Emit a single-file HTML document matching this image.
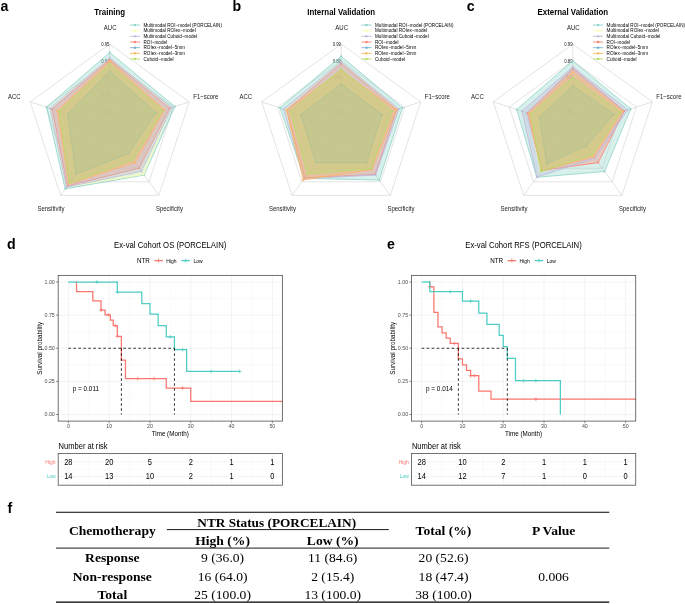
<!DOCTYPE html>
<html><head><meta charset="utf-8"><style>
html,body{margin:0;padding:0;background:#fff;width:685px;height:604px;overflow:hidden}
svg{display:block;filter:blur(0.35px)}
</style></head><body>
<svg width="685" height="604" viewBox="0 0 685 604">
<rect width="685" height="604" fill="#fff"/>
<text transform="translate(0.4,11)" font-family="'Liberation Sans', sans-serif" font-size="14.2" font-weight="bold" fill="#000">a</text>
<text transform="translate(232.6,11.2)" font-family="'Liberation Sans', sans-serif" font-size="14.2" font-weight="bold" fill="#000">b</text>
<text transform="translate(466.8,11.4)" font-family="'Liberation Sans', sans-serif" font-size="14.2" font-weight="bold" fill="#000">c</text>
<text transform="translate(6.9,249)" font-family="'Liberation Sans', sans-serif" font-size="14.2" font-weight="bold" fill="#000">d</text>
<text transform="translate(386.9,249)" font-family="'Liberation Sans', sans-serif" font-size="14.2" font-weight="bold" fill="#000">e</text>
<text transform="translate(7.4,513)" font-family="'Liberation Sans', sans-serif" font-size="14.2" font-weight="bold" fill="#000">f</text>
<text transform="translate(109.7,14.9) scale(1,1.12)" text-anchor="middle" font-family="'Liberation Sans', sans-serif" font-size="7.9" font-weight="bold" fill="#000">Training</text>
<polygon points="109.7,44.1 189.21,101.87 158.84,195.33 60.56,195.33 30.19,101.87" fill="none" stroke="#CCCCCC" stroke-width="0.55"/>
<polygon points="109.7,60.82 173.31,107.03 149.01,181.81 70.39,181.81 46.09,107.03" fill="none" stroke="#CCCCCC" stroke-width="0.55"/>
<polygon points="109.7,77.54 157.4,112.2 139.18,168.28 80.22,168.28 62,112.2" fill="none" stroke="#CCCCCC" stroke-width="0.55"/>
<polygon points="109.7,94.26 141.5,117.37 129.36,154.75 90.04,154.75 77.9,117.37" fill="none" stroke="#CCCCCC" stroke-width="0.55"/>
<polygon points="109.7,110.98 125.6,122.53 119.53,141.23 99.87,141.23 93.8,122.53" fill="none" stroke="#CCCCCC" stroke-width="0.55"/>
<line x1="109.7" y1="127.7" x2="109.7" y2="44.1" stroke="#CCCCCC" stroke-width="0.55"/>
<line x1="109.7" y1="127.7" x2="189.21" y2="101.87" stroke="#CCCCCC" stroke-width="0.55"/>
<line x1="109.7" y1="127.7" x2="158.84" y2="195.33" stroke="#CCCCCC" stroke-width="0.55"/>
<line x1="109.7" y1="127.7" x2="60.56" y2="195.33" stroke="#CCCCCC" stroke-width="0.55"/>
<line x1="109.7" y1="127.7" x2="30.19" y2="101.87" stroke="#CCCCCC" stroke-width="0.55"/>
<text transform="translate(109.5,45.85) scale(1,1.12)" text-anchor="end" font-family="'Liberation Sans', sans-serif" font-size="4.3" fill="#222">0.95</text>
<text transform="translate(109.5,62.57) scale(1,1.12)" text-anchor="end" font-family="'Liberation Sans', sans-serif" font-size="4.3" fill="#222">0.86</text>
<text transform="translate(109.5,79.29) scale(1,1.12)" text-anchor="end" font-family="'Liberation Sans', sans-serif" font-size="4.3" fill="#222">0.8</text>
<text transform="translate(109.5,96.01) scale(1,1.12)" text-anchor="end" font-family="'Liberation Sans', sans-serif" font-size="4.3" fill="#222">0.71</text>
<text transform="translate(109.5,112.73) scale(1,1.12)" text-anchor="end" font-family="'Liberation Sans', sans-serif" font-size="4.3" fill="#222">0.62</text>
<polygon points="109.7,52.46 174.9,106.52 144.1,175.04 65.23,188.91 46.57,107.19" fill="#8DD3C7" fill-opacity="0.35" stroke="#8DD3C7" stroke-width="0.8" stroke-linejoin="round"/>
<circle cx="109.7" cy="52.46" r="0.95" fill="#8DD3C7"/>
<circle cx="174.9" cy="106.52" r="0.95" fill="#8DD3C7"/>
<circle cx="144.1" cy="175.04" r="0.95" fill="#8DD3C7"/>
<circle cx="65.23" cy="188.91" r="0.95" fill="#8DD3C7"/>
<circle cx="46.57" cy="107.19" r="0.95" fill="#8DD3C7"/>
<polygon points="109.7,58.31 170.92,107.81 143.61,174.37 66.7,186.88 50.47,108.45" fill="#FFFFB3" fill-opacity="0.35" stroke="#FFFFB3" stroke-width="0.8" stroke-linejoin="round"/>
<circle cx="109.7" cy="58.31" r="0.95" fill="#FFFFB3"/>
<circle cx="170.92" cy="107.81" r="0.95" fill="#FFFFB3"/>
<circle cx="143.61" cy="174.37" r="0.95" fill="#FFFFB3"/>
<circle cx="66.7" cy="186.88" r="0.95" fill="#FFFFB3"/>
<circle cx="50.47" cy="108.45" r="0.95" fill="#FFFFB3"/>
<polygon points="109.7,59.48 169.65,108.22 139.18,168.28 67.39,185.93 52.22,109.02" fill="#FB8072" fill-opacity="0.35" stroke="#FB8072" stroke-width="0.8" stroke-linejoin="round"/>
<circle cx="109.7" cy="59.48" r="0.95" fill="#FB8072"/>
<circle cx="169.65" cy="108.22" r="0.95" fill="#FB8072"/>
<circle cx="139.18" cy="168.28" r="0.95" fill="#FB8072"/>
<circle cx="67.39" cy="185.93" r="0.95" fill="#FB8072"/>
<circle cx="52.22" cy="109.02" r="0.95" fill="#FB8072"/>
<polygon points="109.7,57.81 171.72,107.55 141.39,171.32 66.46,187.22 50.15,108.35" fill="#BEBADA" fill-opacity="0.35" stroke="#BEBADA" stroke-width="0.8" stroke-linejoin="round"/>
<circle cx="109.7" cy="57.81" r="0.95" fill="#BEBADA"/>
<circle cx="171.72" cy="107.55" r="0.95" fill="#BEBADA"/>
<circle cx="141.39" cy="171.32" r="0.95" fill="#BEBADA"/>
<circle cx="66.46" cy="187.22" r="0.95" fill="#BEBADA"/>
<circle cx="50.15" cy="108.35" r="0.95" fill="#BEBADA"/>
<polygon points="109.7,71.1 155.81,112.72 128.37,153.4 75.94,174.16 67.8,114.09" fill="#80B1D3" fill-opacity="0.35" stroke="#80B1D3" stroke-width="0.8" stroke-linejoin="round"/>
<circle cx="109.7" cy="71.1" r="0.95" fill="#80B1D3"/>
<circle cx="155.81" cy="112.72" r="0.95" fill="#80B1D3"/>
<circle cx="128.37" cy="153.4" r="0.95" fill="#80B1D3"/>
<circle cx="75.94" cy="174.16" r="0.95" fill="#80B1D3"/>
<circle cx="67.8" cy="114.09" r="0.95" fill="#80B1D3"/>
<polygon points="109.7,60.99 164.56,109.87 135.01,162.53 68.91,183.84 57.3,110.68" fill="#FDB462" fill-opacity="0.35" stroke="#FDB462" stroke-width="0.8" stroke-linejoin="round"/>
<circle cx="109.7" cy="60.99" r="0.95" fill="#FDB462"/>
<circle cx="164.56" cy="109.87" r="0.95" fill="#FDB462"/>
<circle cx="135.01" cy="162.53" r="0.95" fill="#FDB462"/>
<circle cx="68.91" cy="183.84" r="0.95" fill="#FDB462"/>
<circle cx="57.3" cy="110.68" r="0.95" fill="#FDB462"/>
<polygon points="109.7,63.83 162.65,110.49 133.04,159.83 69.46,183.09 59.13,111.27" fill="#B3DE69" fill-opacity="0.35" stroke="#B3DE69" stroke-width="0.8" stroke-linejoin="round"/>
<circle cx="109.7" cy="63.83" r="0.95" fill="#B3DE69"/>
<circle cx="162.65" cy="110.49" r="0.95" fill="#B3DE69"/>
<circle cx="133.04" cy="159.83" r="0.95" fill="#B3DE69"/>
<circle cx="69.46" cy="183.09" r="0.95" fill="#B3DE69"/>
<circle cx="59.13" cy="111.27" r="0.95" fill="#B3DE69"/>
<text transform="translate(110.2,29.6) scale(1,1.12)" text-anchor="middle" font-family="'Liberation Sans', sans-serif" font-size="6" fill="#1a1a1a">AUC</text>
<text transform="translate(205.8,98.7) scale(1,1.12)" text-anchor="middle" font-family="'Liberation Sans', sans-serif" font-size="6" fill="#1a1a1a">F1−score</text>
<text transform="translate(169.4,210.7) scale(1,1.12)" text-anchor="middle" font-family="'Liberation Sans', sans-serif" font-size="6" fill="#1a1a1a">Specificity</text>
<text transform="translate(50.9,210.7) scale(1,1.12)" text-anchor="middle" font-family="'Liberation Sans', sans-serif" font-size="6" fill="#1a1a1a">Sensitivity</text>
<text transform="translate(14.3,98.6) scale(1,1.12)" text-anchor="middle" font-family="'Liberation Sans', sans-serif" font-size="6" fill="#1a1a1a">ACC</text>
<line x1="130" y1="25" x2="140" y2="25" stroke="#8DD3C7" stroke-width="0.9"/>
<circle cx="135" cy="25" r="1.2" fill="#8DD3C7"/>
<text transform="translate(143.5,26.6) scale(1,1.12)" font-family="'Liberation Sans', sans-serif" font-size="4.65" fill="#000">Multimodal ROI−model (PORCELAIN)</text>
<line x1="130" y1="30.67" x2="140" y2="30.67" stroke="#FFFFB3" stroke-width="0.9"/>
<circle cx="135" cy="30.67" r="1.2" fill="#FFFFB3"/>
<text transform="translate(143.5,32.27) scale(1,1.12)" font-family="'Liberation Sans', sans-serif" font-size="4.65" fill="#000">Multimodal ROIex−model</text>
<line x1="130" y1="36.34" x2="140" y2="36.34" stroke="#BEBADA" stroke-width="0.9"/>
<circle cx="135" cy="36.34" r="1.2" fill="#BEBADA"/>
<text transform="translate(143.5,37.94) scale(1,1.12)" font-family="'Liberation Sans', sans-serif" font-size="4.65" fill="#000">Multimodal Cuboid−model</text>
<line x1="130" y1="42.01" x2="140" y2="42.01" stroke="#FB8072" stroke-width="0.9"/>
<circle cx="135" cy="42.01" r="1.2" fill="#FB8072"/>
<text transform="translate(143.5,43.61) scale(1,1.12)" font-family="'Liberation Sans', sans-serif" font-size="4.65" fill="#000">ROI−model</text>
<line x1="130" y1="47.68" x2="140" y2="47.68" stroke="#80B1D3" stroke-width="0.9"/>
<circle cx="135" cy="47.68" r="1.2" fill="#80B1D3"/>
<text transform="translate(143.5,49.28) scale(1,1.12)" font-family="'Liberation Sans', sans-serif" font-size="4.65" fill="#000">ROIex−model−5mm</text>
<line x1="130" y1="53.35" x2="140" y2="53.35" stroke="#FDB462" stroke-width="0.9"/>
<circle cx="135" cy="53.35" r="1.2" fill="#FDB462"/>
<text transform="translate(143.5,54.95) scale(1,1.12)" font-family="'Liberation Sans', sans-serif" font-size="4.65" fill="#000">ROIex−model−3mm</text>
<line x1="130" y1="59.02" x2="140" y2="59.02" stroke="#B3DE69" stroke-width="0.9"/>
<circle cx="135" cy="59.02" r="1.2" fill="#B3DE69"/>
<text transform="translate(143.5,60.62) scale(1,1.12)" font-family="'Liberation Sans', sans-serif" font-size="4.65" fill="#000">Cuboid−model</text>
<text transform="translate(341.2,14.9) scale(1,1.12)" text-anchor="middle" font-family="'Liberation Sans', sans-serif" font-size="7.9" font-weight="bold" fill="#000">Internal Validation</text>
<polygon points="341.2,44.1 420.71,101.87 390.34,195.33 292.06,195.33 261.69,101.87" fill="none" stroke="#CCCCCC" stroke-width="0.55"/>
<polygon points="341.2,60.82 404.81,107.03 380.51,181.81 301.89,181.81 277.59,107.03" fill="none" stroke="#CCCCCC" stroke-width="0.55"/>
<polygon points="341.2,77.54 388.9,112.2 370.68,168.28 311.72,168.28 293.5,112.2" fill="none" stroke="#CCCCCC" stroke-width="0.55"/>
<polygon points="341.2,94.26 373,117.37 360.86,154.75 321.54,154.75 309.4,117.37" fill="none" stroke="#CCCCCC" stroke-width="0.55"/>
<polygon points="341.2,110.98 357.1,122.53 351.03,141.23 331.37,141.23 325.3,122.53" fill="none" stroke="#CCCCCC" stroke-width="0.55"/>
<line x1="341.2" y1="127.7" x2="341.2" y2="44.1" stroke="#CCCCCC" stroke-width="0.55"/>
<line x1="341.2" y1="127.7" x2="420.71" y2="101.87" stroke="#CCCCCC" stroke-width="0.55"/>
<line x1="341.2" y1="127.7" x2="390.34" y2="195.33" stroke="#CCCCCC" stroke-width="0.55"/>
<line x1="341.2" y1="127.7" x2="292.06" y2="195.33" stroke="#CCCCCC" stroke-width="0.55"/>
<line x1="341.2" y1="127.7" x2="261.69" y2="101.87" stroke="#CCCCCC" stroke-width="0.55"/>
<text transform="translate(341,45.85) scale(1,1.12)" text-anchor="end" font-family="'Liberation Sans', sans-serif" font-size="4.3" fill="#222">0.99</text>
<text transform="translate(341,62.57) scale(1,1.12)" text-anchor="end" font-family="'Liberation Sans', sans-serif" font-size="4.3" fill="#222">0.89</text>
<text transform="translate(341,79.29) scale(1,1.12)" text-anchor="end" font-family="'Liberation Sans', sans-serif" font-size="4.3" fill="#222">0.8</text>
<text transform="translate(341,96.01) scale(1,1.12)" text-anchor="end" font-family="'Liberation Sans', sans-serif" font-size="4.3" fill="#222">0.71</text>
<text transform="translate(341,112.73) scale(1,1.12)" text-anchor="end" font-family="'Liberation Sans', sans-serif" font-size="4.3" fill="#222">0.62</text>
<polygon points="341.2,56.22 402.42,107.81 379.23,180.05 304.35,178.43 279.98,107.81" fill="#8DD3C7" fill-opacity="0.35" stroke="#8DD3C7" stroke-width="0.8" stroke-linejoin="round"/>
<circle cx="341.2" cy="56.22" r="0.95" fill="#8DD3C7"/>
<circle cx="402.42" cy="107.81" r="0.95" fill="#8DD3C7"/>
<circle cx="379.23" cy="180.05" r="0.95" fill="#8DD3C7"/>
<circle cx="304.35" cy="178.43" r="0.95" fill="#8DD3C7"/>
<circle cx="279.98" cy="107.81" r="0.95" fill="#8DD3C7"/>
<polygon points="341.2,62.49 397.65,109.36 373.63,172.34 304.84,177.75 285.54,109.62" fill="#FFFFB3" fill-opacity="0.35" stroke="#FFFFB3" stroke-width="0.8" stroke-linejoin="round"/>
<circle cx="341.2" cy="62.49" r="0.95" fill="#FFFFB3"/>
<circle cx="397.65" cy="109.36" r="0.95" fill="#FFFFB3"/>
<circle cx="373.63" cy="172.34" r="0.95" fill="#FFFFB3"/>
<circle cx="304.84" cy="177.75" r="0.95" fill="#FFFFB3"/>
<circle cx="285.54" cy="109.62" r="0.95" fill="#FFFFB3"/>
<polygon points="341.2,63.58 396.86,109.62 375.11,174.37 304.84,177.75 286.66,109.98" fill="#FB8072" fill-opacity="0.35" stroke="#FB8072" stroke-width="0.8" stroke-linejoin="round"/>
<circle cx="341.2" cy="63.58" r="0.95" fill="#FB8072"/>
<circle cx="396.86" cy="109.62" r="0.95" fill="#FB8072"/>
<circle cx="375.11" cy="174.37" r="0.95" fill="#FB8072"/>
<circle cx="304.84" cy="177.75" r="0.95" fill="#FB8072"/>
<circle cx="286.66" cy="109.98" r="0.95" fill="#FB8072"/>
<polygon points="341.2,61.91 398.92,108.94 375.6,175.04 304.1,178.76 283.48,108.94" fill="#BEBADA" fill-opacity="0.35" stroke="#BEBADA" stroke-width="0.8" stroke-linejoin="round"/>
<circle cx="341.2" cy="61.91" r="0.95" fill="#BEBADA"/>
<circle cx="398.92" cy="108.94" r="0.95" fill="#BEBADA"/>
<circle cx="375.6" cy="175.04" r="0.95" fill="#BEBADA"/>
<circle cx="304.1" cy="178.76" r="0.95" fill="#BEBADA"/>
<circle cx="283.48" cy="108.94" r="0.95" fill="#BEBADA"/>
<polygon points="341.2,84.23 381.99,114.45 366.6,162.67 315.89,162.53 300.81,114.58" fill="#80B1D3" fill-opacity="0.35" stroke="#80B1D3" stroke-width="0.8" stroke-linejoin="round"/>
<circle cx="341.2" cy="84.23" r="0.95" fill="#80B1D3"/>
<circle cx="381.99" cy="114.45" r="0.95" fill="#80B1D3"/>
<circle cx="366.6" cy="162.67" r="0.95" fill="#80B1D3"/>
<circle cx="315.89" cy="162.53" r="0.95" fill="#80B1D3"/>
<circle cx="300.81" cy="114.58" r="0.95" fill="#80B1D3"/>
<polygon points="341.2,70.85 396.06,109.87 371.67,169.63 303.22,179.98 286.66,109.98" fill="#FDB462" fill-opacity="0.35" stroke="#FDB462" stroke-width="0.8" stroke-linejoin="round"/>
<circle cx="341.2" cy="70.85" r="0.95" fill="#FDB462"/>
<circle cx="396.06" cy="109.87" r="0.95" fill="#FDB462"/>
<circle cx="371.67" cy="169.63" r="0.95" fill="#FDB462"/>
<circle cx="303.22" cy="179.98" r="0.95" fill="#FDB462"/>
<circle cx="286.66" cy="109.98" r="0.95" fill="#FDB462"/>
<polygon points="341.2,69.18 392.09,111.17 370.93,168.62 307.64,173.89 290.31,111.17" fill="#B3DE69" fill-opacity="0.35" stroke="#B3DE69" stroke-width="0.8" stroke-linejoin="round"/>
<circle cx="341.2" cy="69.18" r="0.95" fill="#B3DE69"/>
<circle cx="392.09" cy="111.17" r="0.95" fill="#B3DE69"/>
<circle cx="370.93" cy="168.62" r="0.95" fill="#B3DE69"/>
<circle cx="307.64" cy="173.89" r="0.95" fill="#B3DE69"/>
<circle cx="290.31" cy="111.17" r="0.95" fill="#B3DE69"/>
<text transform="translate(341.7,29.6) scale(1,1.12)" text-anchor="middle" font-family="'Liberation Sans', sans-serif" font-size="6" fill="#1a1a1a">AUC</text>
<text transform="translate(437.3,98.7) scale(1,1.12)" text-anchor="middle" font-family="'Liberation Sans', sans-serif" font-size="6" fill="#1a1a1a">F1−score</text>
<text transform="translate(400.9,210.7) scale(1,1.12)" text-anchor="middle" font-family="'Liberation Sans', sans-serif" font-size="6" fill="#1a1a1a">Specificity</text>
<text transform="translate(282.4,210.7) scale(1,1.12)" text-anchor="middle" font-family="'Liberation Sans', sans-serif" font-size="6" fill="#1a1a1a">Sensitivity</text>
<text transform="translate(245.8,98.6) scale(1,1.12)" text-anchor="middle" font-family="'Liberation Sans', sans-serif" font-size="6" fill="#1a1a1a">ACC</text>
<line x1="361.5" y1="25" x2="371.5" y2="25" stroke="#8DD3C7" stroke-width="0.9"/>
<circle cx="366.5" cy="25" r="1.2" fill="#8DD3C7"/>
<text transform="translate(375,26.6) scale(1,1.12)" font-family="'Liberation Sans', sans-serif" font-size="4.65" fill="#000">Multimodal ROI−model (PORCELAIN)</text>
<line x1="361.5" y1="30.67" x2="371.5" y2="30.67" stroke="#FFFFB3" stroke-width="0.9"/>
<circle cx="366.5" cy="30.67" r="1.2" fill="#FFFFB3"/>
<text transform="translate(375,32.27) scale(1,1.12)" font-family="'Liberation Sans', sans-serif" font-size="4.65" fill="#000">Multimodal ROIex−model</text>
<line x1="361.5" y1="36.34" x2="371.5" y2="36.34" stroke="#BEBADA" stroke-width="0.9"/>
<circle cx="366.5" cy="36.34" r="1.2" fill="#BEBADA"/>
<text transform="translate(375,37.94) scale(1,1.12)" font-family="'Liberation Sans', sans-serif" font-size="4.65" fill="#000">Multimodal Cuboid−model</text>
<line x1="361.5" y1="42.01" x2="371.5" y2="42.01" stroke="#FB8072" stroke-width="0.9"/>
<circle cx="366.5" cy="42.01" r="1.2" fill="#FB8072"/>
<text transform="translate(375,43.61) scale(1,1.12)" font-family="'Liberation Sans', sans-serif" font-size="4.65" fill="#000">ROI−model</text>
<line x1="361.5" y1="47.68" x2="371.5" y2="47.68" stroke="#80B1D3" stroke-width="0.9"/>
<circle cx="366.5" cy="47.68" r="1.2" fill="#80B1D3"/>
<text transform="translate(375,49.28) scale(1,1.12)" font-family="'Liberation Sans', sans-serif" font-size="4.65" fill="#000">ROIex−model−5mm</text>
<line x1="361.5" y1="53.35" x2="371.5" y2="53.35" stroke="#FDB462" stroke-width="0.9"/>
<circle cx="366.5" cy="53.35" r="1.2" fill="#FDB462"/>
<text transform="translate(375,54.95) scale(1,1.12)" font-family="'Liberation Sans', sans-serif" font-size="4.65" fill="#000">ROIex−model−3mm</text>
<line x1="361.5" y1="59.02" x2="371.5" y2="59.02" stroke="#B3DE69" stroke-width="0.9"/>
<circle cx="366.5" cy="59.02" r="1.2" fill="#B3DE69"/>
<text transform="translate(375,60.62) scale(1,1.12)" font-family="'Liberation Sans', sans-serif" font-size="4.65" fill="#000">Cuboid−model</text>
<text transform="translate(572.8,14.9) scale(1,1.12)" text-anchor="middle" font-family="'Liberation Sans', sans-serif" font-size="7.9" font-weight="bold" fill="#000">External Validation</text>
<polygon points="572.8,44.1 652.31,101.87 621.94,195.33 523.66,195.33 493.29,101.87" fill="none" stroke="#CCCCCC" stroke-width="0.55"/>
<polygon points="572.8,60.82 636.41,107.03 612.11,181.81 533.49,181.81 509.19,107.03" fill="none" stroke="#CCCCCC" stroke-width="0.55"/>
<polygon points="572.8,77.54 620.5,112.2 602.28,168.28 543.32,168.28 525.1,112.2" fill="none" stroke="#CCCCCC" stroke-width="0.55"/>
<polygon points="572.8,94.26 604.6,117.37 592.46,154.75 553.14,154.75 541,117.37" fill="none" stroke="#CCCCCC" stroke-width="0.55"/>
<polygon points="572.8,110.98 588.7,122.53 582.63,141.23 562.97,141.23 556.9,122.53" fill="none" stroke="#CCCCCC" stroke-width="0.55"/>
<line x1="572.8" y1="127.7" x2="572.8" y2="44.1" stroke="#CCCCCC" stroke-width="0.55"/>
<line x1="572.8" y1="127.7" x2="652.31" y2="101.87" stroke="#CCCCCC" stroke-width="0.55"/>
<line x1="572.8" y1="127.7" x2="621.94" y2="195.33" stroke="#CCCCCC" stroke-width="0.55"/>
<line x1="572.8" y1="127.7" x2="523.66" y2="195.33" stroke="#CCCCCC" stroke-width="0.55"/>
<line x1="572.8" y1="127.7" x2="493.29" y2="101.87" stroke="#CCCCCC" stroke-width="0.55"/>
<text transform="translate(572.6,45.85) scale(1,1.12)" text-anchor="end" font-family="'Liberation Sans', sans-serif" font-size="4.3" fill="#222">0.99</text>
<text transform="translate(572.6,62.57) scale(1,1.12)" text-anchor="end" font-family="'Liberation Sans', sans-serif" font-size="4.3" fill="#222">0.89</text>
<text transform="translate(572.6,79.29) scale(1,1.12)" text-anchor="end" font-family="'Liberation Sans', sans-serif" font-size="4.3" fill="#222">0.8</text>
<text transform="translate(572.6,96.01) scale(1,1.12)" text-anchor="end" font-family="'Liberation Sans', sans-serif" font-size="4.3" fill="#222">0.71</text>
<text transform="translate(572.6,112.73) scale(1,1.12)" text-anchor="end" font-family="'Liberation Sans', sans-serif" font-size="4.3" fill="#222">0.62</text>
<polygon points="572.8,60.82 630.68,108.89 604.64,171.53 536.78,177.28 516.75,109.49" fill="#8DD3C7" fill-opacity="0.35" stroke="#8DD3C7" stroke-width="0.8" stroke-linejoin="round"/>
<circle cx="572.8" cy="60.82" r="0.95" fill="#8DD3C7"/>
<circle cx="630.68" cy="108.89" r="0.95" fill="#8DD3C7"/>
<circle cx="604.64" cy="171.53" r="0.95" fill="#8DD3C7"/>
<circle cx="536.78" cy="177.28" r="0.95" fill="#8DD3C7"/>
<circle cx="516.75" cy="109.49" r="0.95" fill="#8DD3C7"/>
<polygon points="572.8,72.52 622.1,111.68 593.44,156.11 540.37,172.34 528.28,113.23" fill="#FFFFB3" fill-opacity="0.35" stroke="#FFFFB3" stroke-width="0.8" stroke-linejoin="round"/>
<circle cx="572.8" cy="72.52" r="0.95" fill="#FFFFB3"/>
<circle cx="622.1" cy="111.68" r="0.95" fill="#FFFFB3"/>
<circle cx="593.44" cy="156.11" r="0.95" fill="#FFFFB3"/>
<circle cx="540.37" cy="172.34" r="0.95" fill="#FFFFB3"/>
<circle cx="528.28" cy="113.23" r="0.95" fill="#FFFFB3"/>
<polygon points="572.8,68.34 624.32,110.96 598.2,162.67 541.74,170.44 527.48,112.97" fill="#FB8072" fill-opacity="0.35" stroke="#FB8072" stroke-width="0.8" stroke-linejoin="round"/>
<circle cx="572.8" cy="68.34" r="0.95" fill="#FB8072"/>
<circle cx="624.32" cy="110.96" r="0.95" fill="#FB8072"/>
<circle cx="598.2" cy="162.67" r="0.95" fill="#FB8072"/>
<circle cx="541.74" cy="170.44" r="0.95" fill="#FB8072"/>
<circle cx="527.48" cy="112.97" r="0.95" fill="#FB8072"/>
<polygon points="572.8,66.84 627.66,109.87 594.91,158.14 536.98,177.01 521.91,111.17" fill="#BEBADA" fill-opacity="0.35" stroke="#BEBADA" stroke-width="0.8" stroke-linejoin="round"/>
<circle cx="572.8" cy="66.84" r="0.95" fill="#BEBADA"/>
<circle cx="627.66" cy="109.87" r="0.95" fill="#BEBADA"/>
<circle cx="594.91" cy="158.14" r="0.95" fill="#BEBADA"/>
<circle cx="536.98" cy="177.01" r="0.95" fill="#BEBADA"/>
<circle cx="521.91" cy="111.17" r="0.95" fill="#BEBADA"/>
<polygon points="572.8,85.9 614.14,114.27 586.07,145.96 546.61,163.75 539.41,116.85" fill="#80B1D3" fill-opacity="0.35" stroke="#80B1D3" stroke-width="0.8" stroke-linejoin="round"/>
<circle cx="572.8" cy="85.9" r="0.95" fill="#80B1D3"/>
<circle cx="614.14" cy="114.27" r="0.95" fill="#80B1D3"/>
<circle cx="586.07" cy="145.96" r="0.95" fill="#80B1D3"/>
<circle cx="546.61" cy="163.75" r="0.95" fill="#80B1D3"/>
<circle cx="539.41" cy="116.85" r="0.95" fill="#80B1D3"/>
<polygon points="572.8,71.69 622.89,111.42 593.93,156.78 541.35,170.99 529.07,113.49" fill="#FDB462" fill-opacity="0.35" stroke="#FDB462" stroke-width="0.8" stroke-linejoin="round"/>
<circle cx="572.8" cy="71.69" r="0.95" fill="#FDB462"/>
<circle cx="622.89" cy="111.42" r="0.95" fill="#FDB462"/>
<circle cx="593.93" cy="156.78" r="0.95" fill="#FDB462"/>
<circle cx="541.35" cy="170.99" r="0.95" fill="#FDB462"/>
<circle cx="529.07" cy="113.49" r="0.95" fill="#FDB462"/>
<polygon points="572.8,77.54 620.5,112.2 592.46,154.75 541.11,171.32 530.66,114.01" fill="#B3DE69" fill-opacity="0.35" stroke="#B3DE69" stroke-width="0.8" stroke-linejoin="round"/>
<circle cx="572.8" cy="77.54" r="0.95" fill="#B3DE69"/>
<circle cx="620.5" cy="112.2" r="0.95" fill="#B3DE69"/>
<circle cx="592.46" cy="154.75" r="0.95" fill="#B3DE69"/>
<circle cx="541.11" cy="171.32" r="0.95" fill="#B3DE69"/>
<circle cx="530.66" cy="114.01" r="0.95" fill="#B3DE69"/>
<text transform="translate(573.3,29.6) scale(1,1.12)" text-anchor="middle" font-family="'Liberation Sans', sans-serif" font-size="6" fill="#1a1a1a">AUC</text>
<text transform="translate(668.9,98.7) scale(1,1.12)" text-anchor="middle" font-family="'Liberation Sans', sans-serif" font-size="6" fill="#1a1a1a">F1−score</text>
<text transform="translate(632.5,210.7) scale(1,1.12)" text-anchor="middle" font-family="'Liberation Sans', sans-serif" font-size="6" fill="#1a1a1a">Specificity</text>
<text transform="translate(514,210.7) scale(1,1.12)" text-anchor="middle" font-family="'Liberation Sans', sans-serif" font-size="6" fill="#1a1a1a">Sensitivity</text>
<text transform="translate(477.4,98.6) scale(1,1.12)" text-anchor="middle" font-family="'Liberation Sans', sans-serif" font-size="6" fill="#1a1a1a">ACC</text>
<line x1="593.1" y1="25" x2="603.1" y2="25" stroke="#8DD3C7" stroke-width="0.9"/>
<circle cx="598.1" cy="25" r="1.2" fill="#8DD3C7"/>
<text transform="translate(606.6,26.6) scale(1,1.12)" font-family="'Liberation Sans', sans-serif" font-size="4.65" fill="#000">Multimodal ROI−model (PORCELAIN)</text>
<line x1="593.1" y1="30.67" x2="603.1" y2="30.67" stroke="#FFFFB3" stroke-width="0.9"/>
<circle cx="598.1" cy="30.67" r="1.2" fill="#FFFFB3"/>
<text transform="translate(606.6,32.27) scale(1,1.12)" font-family="'Liberation Sans', sans-serif" font-size="4.65" fill="#000">Multimodal ROIex−model</text>
<line x1="593.1" y1="36.34" x2="603.1" y2="36.34" stroke="#BEBADA" stroke-width="0.9"/>
<circle cx="598.1" cy="36.34" r="1.2" fill="#BEBADA"/>
<text transform="translate(606.6,37.94) scale(1,1.12)" font-family="'Liberation Sans', sans-serif" font-size="4.65" fill="#000">Multimodal Cuboid−model</text>
<line x1="593.1" y1="42.01" x2="603.1" y2="42.01" stroke="#FB8072" stroke-width="0.9"/>
<circle cx="598.1" cy="42.01" r="1.2" fill="#FB8072"/>
<text transform="translate(606.6,43.61) scale(1,1.12)" font-family="'Liberation Sans', sans-serif" font-size="4.65" fill="#000">ROI−model</text>
<line x1="593.1" y1="47.68" x2="603.1" y2="47.68" stroke="#80B1D3" stroke-width="0.9"/>
<circle cx="598.1" cy="47.68" r="1.2" fill="#80B1D3"/>
<text transform="translate(606.6,49.28) scale(1,1.12)" font-family="'Liberation Sans', sans-serif" font-size="4.65" fill="#000">ROIex−model−5mm</text>
<line x1="593.1" y1="53.35" x2="603.1" y2="53.35" stroke="#FDB462" stroke-width="0.9"/>
<circle cx="598.1" cy="53.35" r="1.2" fill="#FDB462"/>
<text transform="translate(606.6,54.95) scale(1,1.12)" font-family="'Liberation Sans', sans-serif" font-size="4.65" fill="#000">ROIex−model−3mm</text>
<line x1="593.1" y1="59.02" x2="603.1" y2="59.02" stroke="#B3DE69" stroke-width="0.9"/>
<circle cx="598.1" cy="59.02" r="1.2" fill="#B3DE69"/>
<text transform="translate(606.6,60.62) scale(1,1.12)" font-family="'Liberation Sans', sans-serif" font-size="4.65" fill="#000">Cuboid−model</text>
<line x1="88.75" y1="275.4" x2="88.75" y2="421.1" stroke="#F2F2F2" stroke-width="0.4"/>
<line x1="129.55" y1="275.4" x2="129.55" y2="421.1" stroke="#F2F2F2" stroke-width="0.4"/>
<line x1="170.35" y1="275.4" x2="170.35" y2="421.1" stroke="#F2F2F2" stroke-width="0.4"/>
<line x1="211.15" y1="275.4" x2="211.15" y2="421.1" stroke="#F2F2F2" stroke-width="0.4"/>
<line x1="251.95" y1="275.4" x2="251.95" y2="421.1" stroke="#F2F2F2" stroke-width="0.4"/>
<line x1="58.2" y1="397.94" x2="282.4" y2="397.94" stroke="#F2F2F2" stroke-width="0.4"/>
<line x1="58.2" y1="364.81" x2="282.4" y2="364.81" stroke="#F2F2F2" stroke-width="0.4"/>
<line x1="58.2" y1="331.69" x2="282.4" y2="331.69" stroke="#F2F2F2" stroke-width="0.4"/>
<line x1="58.2" y1="298.56" x2="282.4" y2="298.56" stroke="#F2F2F2" stroke-width="0.4"/>
<line x1="68.35" y1="275.4" x2="68.35" y2="421.1" stroke="#EBEBEB" stroke-width="0.6"/>
<line x1="109.15" y1="275.4" x2="109.15" y2="421.1" stroke="#EBEBEB" stroke-width="0.6"/>
<line x1="149.95" y1="275.4" x2="149.95" y2="421.1" stroke="#EBEBEB" stroke-width="0.6"/>
<line x1="190.75" y1="275.4" x2="190.75" y2="421.1" stroke="#EBEBEB" stroke-width="0.6"/>
<line x1="231.55" y1="275.4" x2="231.55" y2="421.1" stroke="#EBEBEB" stroke-width="0.6"/>
<line x1="272.35" y1="275.4" x2="272.35" y2="421.1" stroke="#EBEBEB" stroke-width="0.6"/>
<line x1="58.2" y1="414.5" x2="282.4" y2="414.5" stroke="#EBEBEB" stroke-width="0.6"/>
<line x1="58.2" y1="381.38" x2="282.4" y2="381.38" stroke="#EBEBEB" stroke-width="0.6"/>
<line x1="58.2" y1="348.25" x2="282.4" y2="348.25" stroke="#EBEBEB" stroke-width="0.6"/>
<line x1="58.2" y1="315.12" x2="282.4" y2="315.12" stroke="#EBEBEB" stroke-width="0.6"/>
<line x1="58.2" y1="282" x2="282.4" y2="282" stroke="#EBEBEB" stroke-width="0.6"/>
<path d="M75.29,282 H76.51 V291.67 H92.83 V300.95 H100.99 V310.09 H105.07 V314.86 H110.37 V320.16 H113.23 V325.59 H117.31 V336.32 H121.39 V360.18 H125.47 V378.59 H166.27 V388 H190.75 V401.25 H282.96" fill="none" stroke="#F8766D" stroke-width="1.25"/>
<path d="M99.19,310.09 H102.79 M100.99,308.29 V311.89" stroke="#F8766D" stroke-width="0.75"/>
<path d="M106.53,314.86 H110.13 M108.33,313.06 V316.66" stroke="#F8766D" stroke-width="0.75"/>
<path d="M113.47,325.59 H117.07 M115.27,323.79 V327.39" stroke="#F8766D" stroke-width="0.75"/>
<path d="M115.51,336.32 H119.11 M117.31,334.52 V338.12" stroke="#F8766D" stroke-width="0.75"/>
<path d="M135.91,378.59 H139.51 M137.71,376.79 V380.39" stroke="#F8766D" stroke-width="0.75"/>
<path d="M152.23,378.59 H155.83 M154.03,376.79 V380.39" stroke="#F8766D" stroke-width="0.75"/>
<path d="M180.79,388 H184.39 M182.59,386.2 V389.8" stroke="#F8766D" stroke-width="0.75"/>
<path d="M68.35,282 H117.31" fill="none" stroke="#4ECDC4" stroke-width="1.25"/>
<path d="M116.09,282 H117.31 V292.2 H141.79 V303.6 H149.95 V314.2 H158.11 V325.59 H166.27 V336.86 H174.43 V349.57 H186.67 V371.44 H239.71" fill="none" stroke="#4ECDC4" stroke-width="1.25"/>
<path d="M95.11,282 H98.71 M96.91,280.2 V283.8" stroke="#4ECDC4" stroke-width="0.75"/>
<path d="M115.51,292.2 H119.11 M117.31,290.4 V294" stroke="#4ECDC4" stroke-width="0.75"/>
<path d="M168.55,336.86 H172.15 M170.35,335.06 V338.66" stroke="#4ECDC4" stroke-width="0.75"/>
<path d="M180.79,349.57 H184.39 M182.59,347.77 V351.38" stroke="#4ECDC4" stroke-width="0.75"/>
<path d="M209.35,371.44 H212.95 M211.15,369.64 V373.24" stroke="#4ECDC4" stroke-width="0.75"/>
<path d="M237.91,371.44 H241.51 M239.71,369.64 V373.24" stroke="#4ECDC4" stroke-width="0.75"/>
<polyline points="68.35,348.25 174.43,348.25" fill="none" stroke="#000" stroke-width="0.8" stroke-dasharray="2.6,2.4"/>
<line x1="121.39" y1="348.25" x2="121.39" y2="414.5" stroke="#000" stroke-width="0.8" stroke-dasharray="2.6,2.4"/>
<line x1="174.43" y1="348.25" x2="174.43" y2="414.5" stroke="#000" stroke-width="0.8" stroke-dasharray="2.6,2.4"/>
<rect x="58.2" y="275.4" width="224.2" height="145.7" fill="none" stroke="#5A5A5A" stroke-width="0.85"/>
<line x1="56.0" y1="414.5" x2="58.2" y2="414.5" stroke="#444" stroke-width="0.6"/>
<text transform="translate(54.8,416.4) scale(1,1.12)" text-anchor="end" font-family="'Liberation Sans', sans-serif" font-size="5.3" fill="#4D4D4D">0.00</text>
<line x1="56.0" y1="381.38" x2="58.2" y2="381.38" stroke="#444" stroke-width="0.6"/>
<text transform="translate(54.8,383.27) scale(1,1.12)" text-anchor="end" font-family="'Liberation Sans', sans-serif" font-size="5.3" fill="#4D4D4D">0.25</text>
<line x1="56.0" y1="348.25" x2="58.2" y2="348.25" stroke="#444" stroke-width="0.6"/>
<text transform="translate(54.8,350.15) scale(1,1.12)" text-anchor="end" font-family="'Liberation Sans', sans-serif" font-size="5.3" fill="#4D4D4D">0.50</text>
<line x1="56.0" y1="315.12" x2="58.2" y2="315.12" stroke="#444" stroke-width="0.6"/>
<text transform="translate(54.8,317.02) scale(1,1.12)" text-anchor="end" font-family="'Liberation Sans', sans-serif" font-size="5.3" fill="#4D4D4D">0.75</text>
<line x1="56.0" y1="282" x2="58.2" y2="282" stroke="#444" stroke-width="0.6"/>
<text transform="translate(54.8,283.9) scale(1,1.12)" text-anchor="end" font-family="'Liberation Sans', sans-serif" font-size="5.3" fill="#4D4D4D">1.00</text>
<line x1="68.35" y1="421.1" x2="68.35" y2="423.3" stroke="#444" stroke-width="0.6"/>
<text transform="translate(68.35,428.2) scale(1,1.12)" text-anchor="middle" font-family="'Liberation Sans', sans-serif" font-size="5.3" fill="#4D4D4D">0</text>
<line x1="109.15" y1="421.1" x2="109.15" y2="423.3" stroke="#444" stroke-width="0.6"/>
<text transform="translate(109.15,428.2) scale(1,1.12)" text-anchor="middle" font-family="'Liberation Sans', sans-serif" font-size="5.3" fill="#4D4D4D">10</text>
<line x1="149.95" y1="421.1" x2="149.95" y2="423.3" stroke="#444" stroke-width="0.6"/>
<text transform="translate(149.95,428.2) scale(1,1.12)" text-anchor="middle" font-family="'Liberation Sans', sans-serif" font-size="5.3" fill="#4D4D4D">20</text>
<line x1="190.75" y1="421.1" x2="190.75" y2="423.3" stroke="#444" stroke-width="0.6"/>
<text transform="translate(190.75,428.2) scale(1,1.12)" text-anchor="middle" font-family="'Liberation Sans', sans-serif" font-size="5.3" fill="#4D4D4D">30</text>
<line x1="231.55" y1="421.1" x2="231.55" y2="423.3" stroke="#444" stroke-width="0.6"/>
<text transform="translate(231.55,428.2) scale(1,1.12)" text-anchor="middle" font-family="'Liberation Sans', sans-serif" font-size="5.3" fill="#4D4D4D">40</text>
<line x1="272.35" y1="421.1" x2="272.35" y2="423.3" stroke="#444" stroke-width="0.6"/>
<text transform="translate(272.35,428.2) scale(1,1.12)" text-anchor="middle" font-family="'Liberation Sans', sans-serif" font-size="5.3" fill="#4D4D4D">50</text>
<text transform="translate(170.2,435.5) scale(1,1.12)" text-anchor="middle" font-family="'Liberation Sans', sans-serif" font-size="6.3" fill="#000">Time (Month)</text>
<text transform="translate(41.9,348.3) rotate(-90) scale(1,1.12)" text-anchor="middle" font-family="'Liberation Sans', sans-serif" font-size="6.3" fill="#000">Survival probability</text>
<text transform="translate(72.7,391) scale(1,1.12)" font-family="'Liberation Sans', sans-serif" font-size="6.4" fill="#000">p = 0.011</text>
<text transform="translate(170.2,248) scale(1,1.12)" text-anchor="middle" font-family="'Liberation Sans', sans-serif" font-size="7.75" fill="#000">Ex-val Cohort OS (PORCELAIN)</text>
<text transform="translate(136.9,263) scale(1,1.12)" font-family="'Liberation Sans', sans-serif" font-size="6.3" fill="#000">NTR</text>
<line x1="154.3" y1="260.6" x2="162.8" y2="260.6" stroke="#F8766D" stroke-width="1.3"/>
<path d="M158.55,258.6 V262.6" stroke="#F8766D" stroke-width="0.8"/>
<text transform="translate(166.3,262.5) scale(1,1.12)" font-family="'Liberation Sans', sans-serif" font-size="5" fill="#000">High</text>
<line x1="181.4" y1="260.6" x2="189.9" y2="260.6" stroke="#4ECDC4" stroke-width="1.3"/>
<path d="M185.65,258.6 V262.6" stroke="#4ECDC4" stroke-width="0.8"/>
<text transform="translate(193.4,262.5) scale(1,1.12)" font-family="'Liberation Sans', sans-serif" font-size="5" fill="#000">Low</text>
<text transform="translate(58.6,449.2) scale(1,1.12)" font-family="'Liberation Sans', sans-serif" font-size="7.55" fill="#000">Number at risk</text>
<line x1="88.75" y1="453.5" x2="88.75" y2="485.2" stroke="#F2F2F2" stroke-width="0.4"/>
<line x1="129.55" y1="453.5" x2="129.55" y2="485.2" stroke="#F2F2F2" stroke-width="0.4"/>
<line x1="170.35" y1="453.5" x2="170.35" y2="485.2" stroke="#F2F2F2" stroke-width="0.4"/>
<line x1="211.15" y1="453.5" x2="211.15" y2="485.2" stroke="#F2F2F2" stroke-width="0.4"/>
<line x1="251.95" y1="453.5" x2="251.95" y2="485.2" stroke="#F2F2F2" stroke-width="0.4"/>
<line x1="68.35" y1="453.5" x2="68.35" y2="485.2" stroke="#EBEBEB" stroke-width="0.6"/>
<line x1="109.15" y1="453.5" x2="109.15" y2="485.2" stroke="#EBEBEB" stroke-width="0.6"/>
<line x1="149.95" y1="453.5" x2="149.95" y2="485.2" stroke="#EBEBEB" stroke-width="0.6"/>
<line x1="190.75" y1="453.5" x2="190.75" y2="485.2" stroke="#EBEBEB" stroke-width="0.6"/>
<line x1="231.55" y1="453.5" x2="231.55" y2="485.2" stroke="#EBEBEB" stroke-width="0.6"/>
<line x1="272.35" y1="453.5" x2="272.35" y2="485.2" stroke="#EBEBEB" stroke-width="0.6"/>
<line x1="58.2" y1="461.8" x2="282.4" y2="461.8" stroke="#EBEBEB" stroke-width="0.6"/>
<line x1="58.2" y1="476.6" x2="282.4" y2="476.6" stroke="#EBEBEB" stroke-width="0.6"/>
<line x1="58.2" y1="469.2" x2="282.4" y2="469.2" stroke="#F2F2F2" stroke-width="0.4"/>
<rect x="58.2" y="453.5" width="224.2" height="31.7" fill="none" stroke="#5A5A5A" stroke-width="0.85"/>
<text transform="translate(55.6,463.6) scale(1,1.12)" text-anchor="end" font-family="'Liberation Sans', sans-serif" font-size="5" fill="#F8766D">High</text>
<text transform="translate(68.35,464.5) scale(1,1.12)" text-anchor="middle" font-family="'Liberation Sans', sans-serif" font-size="7.5" fill="#000">28</text>
<text transform="translate(109.15,464.5) scale(1,1.12)" text-anchor="middle" font-family="'Liberation Sans', sans-serif" font-size="7.5" fill="#000">20</text>
<text transform="translate(149.95,464.5) scale(1,1.12)" text-anchor="middle" font-family="'Liberation Sans', sans-serif" font-size="7.5" fill="#000">5</text>
<text transform="translate(190.75,464.5) scale(1,1.12)" text-anchor="middle" font-family="'Liberation Sans', sans-serif" font-size="7.5" fill="#000">2</text>
<text transform="translate(231.55,464.5) scale(1,1.12)" text-anchor="middle" font-family="'Liberation Sans', sans-serif" font-size="7.5" fill="#000">1</text>
<text transform="translate(272.35,464.5) scale(1,1.12)" text-anchor="middle" font-family="'Liberation Sans', sans-serif" font-size="7.5" fill="#000">1</text>
<text transform="translate(55.6,478.4) scale(1,1.12)" text-anchor="end" font-family="'Liberation Sans', sans-serif" font-size="5" fill="#4ECDC4">Low</text>
<text transform="translate(68.35,479.3) scale(1,1.12)" text-anchor="middle" font-family="'Liberation Sans', sans-serif" font-size="7.5" fill="#000">14</text>
<text transform="translate(109.15,479.3) scale(1,1.12)" text-anchor="middle" font-family="'Liberation Sans', sans-serif" font-size="7.5" fill="#000">13</text>
<text transform="translate(149.95,479.3) scale(1,1.12)" text-anchor="middle" font-family="'Liberation Sans', sans-serif" font-size="7.5" fill="#000">10</text>
<text transform="translate(190.75,479.3) scale(1,1.12)" text-anchor="middle" font-family="'Liberation Sans', sans-serif" font-size="7.5" fill="#000">2</text>
<text transform="translate(231.55,479.3) scale(1,1.12)" text-anchor="middle" font-family="'Liberation Sans', sans-serif" font-size="7.5" fill="#000">1</text>
<text transform="translate(272.35,479.3) scale(1,1.12)" text-anchor="middle" font-family="'Liberation Sans', sans-serif" font-size="7.5" fill="#000">0</text>
<line x1="442.05" y1="275.4" x2="442.05" y2="421.1" stroke="#F2F2F2" stroke-width="0.4"/>
<line x1="482.85" y1="275.4" x2="482.85" y2="421.1" stroke="#F2F2F2" stroke-width="0.4"/>
<line x1="523.65" y1="275.4" x2="523.65" y2="421.1" stroke="#F2F2F2" stroke-width="0.4"/>
<line x1="564.45" y1="275.4" x2="564.45" y2="421.1" stroke="#F2F2F2" stroke-width="0.4"/>
<line x1="605.25" y1="275.4" x2="605.25" y2="421.1" stroke="#F2F2F2" stroke-width="0.4"/>
<line x1="411.5" y1="397.94" x2="635.7" y2="397.94" stroke="#F2F2F2" stroke-width="0.4"/>
<line x1="411.5" y1="364.81" x2="635.7" y2="364.81" stroke="#F2F2F2" stroke-width="0.4"/>
<line x1="411.5" y1="331.69" x2="635.7" y2="331.69" stroke="#F2F2F2" stroke-width="0.4"/>
<line x1="411.5" y1="298.56" x2="635.7" y2="298.56" stroke="#F2F2F2" stroke-width="0.4"/>
<line x1="421.65" y1="275.4" x2="421.65" y2="421.1" stroke="#EBEBEB" stroke-width="0.6"/>
<line x1="462.45" y1="275.4" x2="462.45" y2="421.1" stroke="#EBEBEB" stroke-width="0.6"/>
<line x1="503.25" y1="275.4" x2="503.25" y2="421.1" stroke="#EBEBEB" stroke-width="0.6"/>
<line x1="544.05" y1="275.4" x2="544.05" y2="421.1" stroke="#EBEBEB" stroke-width="0.6"/>
<line x1="584.85" y1="275.4" x2="584.85" y2="421.1" stroke="#EBEBEB" stroke-width="0.6"/>
<line x1="625.65" y1="275.4" x2="625.65" y2="421.1" stroke="#EBEBEB" stroke-width="0.6"/>
<line x1="411.5" y1="414.5" x2="635.7" y2="414.5" stroke="#EBEBEB" stroke-width="0.6"/>
<line x1="411.5" y1="381.38" x2="635.7" y2="381.38" stroke="#EBEBEB" stroke-width="0.6"/>
<line x1="411.5" y1="348.25" x2="635.7" y2="348.25" stroke="#EBEBEB" stroke-width="0.6"/>
<line x1="411.5" y1="315.12" x2="635.7" y2="315.12" stroke="#EBEBEB" stroke-width="0.6"/>
<line x1="411.5" y1="282" x2="635.7" y2="282" stroke="#EBEBEB" stroke-width="0.6"/>
<path d="M428.59,282 H429.81 V286.77 H433.89 V312.48 H437.97 V326.78 H442.05 V332.75 H446.13 V338.05 H450.21 V343.48 H458.37 V358.98 H462.45 V364.94 H466.53 V370.38 H470.61 V375.68 H478.77 V391.18 H491.01 V399.13 H636.26" fill="none" stroke="#F8766D" stroke-width="1.25"/>
<path d="M428.01,286.77 H431.61 M429.81,284.97 V288.57" stroke="#F8766D" stroke-width="0.75"/>
<path d="M452.49,343.48 H456.09 M454.29,341.68 V345.28" stroke="#F8766D" stroke-width="0.75"/>
<path d="M468.81,375.68 H472.41 M470.61,373.88 V377.48" stroke="#F8766D" stroke-width="0.75"/>
<path d="M472.89,375.68 H476.49 M474.69,373.88 V377.48" stroke="#F8766D" stroke-width="0.75"/>
<path d="M534.09,399.13 H537.69 M535.89,397.33 V400.93" stroke="#F8766D" stroke-width="0.75"/>
<path d="M421.65,282 H429.81" fill="none" stroke="#4ECDC4" stroke-width="1.25"/>
<path d="M428.59,282 H429.81 V291.67 H462.45 V301.21 H478.77 V313 H486.93 V324.4 H499.17 V335.4 H503.25 V346.53 H507.33 V358.45 H515.49 V380.71 H560.37 V414.5 H560.37" fill="none" stroke="#4ECDC4" stroke-width="1.25"/>
<path d="M448.41,291.67 H452.01 M450.21,289.87 V293.47" stroke="#4ECDC4" stroke-width="0.75"/>
<path d="M468.81,301.21 H472.41 M470.61,299.41 V303.01" stroke="#4ECDC4" stroke-width="0.75"/>
<path d="M521.85,380.71 H525.45 M523.65,378.91 V382.51" stroke="#4ECDC4" stroke-width="0.75"/>
<path d="M534.09,380.71 H537.69 M535.89,378.91 V382.51" stroke="#4ECDC4" stroke-width="0.75"/>
<polyline points="421.65,348.25 507.33,348.25" fill="none" stroke="#000" stroke-width="0.8" stroke-dasharray="2.6,2.4"/>
<line x1="458.37" y1="348.25" x2="458.37" y2="414.5" stroke="#000" stroke-width="0.8" stroke-dasharray="2.6,2.4"/>
<line x1="507.33" y1="348.25" x2="507.33" y2="414.5" stroke="#000" stroke-width="0.8" stroke-dasharray="2.6,2.4"/>
<rect x="411.5" y="275.4" width="224.2" height="145.7" fill="none" stroke="#5A5A5A" stroke-width="0.85"/>
<line x1="409.3" y1="414.5" x2="411.5" y2="414.5" stroke="#444" stroke-width="0.6"/>
<text transform="translate(408.1,416.4) scale(1,1.12)" text-anchor="end" font-family="'Liberation Sans', sans-serif" font-size="5.3" fill="#4D4D4D">0.00</text>
<line x1="409.3" y1="381.38" x2="411.5" y2="381.38" stroke="#444" stroke-width="0.6"/>
<text transform="translate(408.1,383.27) scale(1,1.12)" text-anchor="end" font-family="'Liberation Sans', sans-serif" font-size="5.3" fill="#4D4D4D">0.25</text>
<line x1="409.3" y1="348.25" x2="411.5" y2="348.25" stroke="#444" stroke-width="0.6"/>
<text transform="translate(408.1,350.15) scale(1,1.12)" text-anchor="end" font-family="'Liberation Sans', sans-serif" font-size="5.3" fill="#4D4D4D">0.50</text>
<line x1="409.3" y1="315.12" x2="411.5" y2="315.12" stroke="#444" stroke-width="0.6"/>
<text transform="translate(408.1,317.02) scale(1,1.12)" text-anchor="end" font-family="'Liberation Sans', sans-serif" font-size="5.3" fill="#4D4D4D">0.75</text>
<line x1="409.3" y1="282" x2="411.5" y2="282" stroke="#444" stroke-width="0.6"/>
<text transform="translate(408.1,283.9) scale(1,1.12)" text-anchor="end" font-family="'Liberation Sans', sans-serif" font-size="5.3" fill="#4D4D4D">1.00</text>
<line x1="421.65" y1="421.1" x2="421.65" y2="423.3" stroke="#444" stroke-width="0.6"/>
<text transform="translate(421.65,428.2) scale(1,1.12)" text-anchor="middle" font-family="'Liberation Sans', sans-serif" font-size="5.3" fill="#4D4D4D">0</text>
<line x1="462.45" y1="421.1" x2="462.45" y2="423.3" stroke="#444" stroke-width="0.6"/>
<text transform="translate(462.45,428.2) scale(1,1.12)" text-anchor="middle" font-family="'Liberation Sans', sans-serif" font-size="5.3" fill="#4D4D4D">10</text>
<line x1="503.25" y1="421.1" x2="503.25" y2="423.3" stroke="#444" stroke-width="0.6"/>
<text transform="translate(503.25,428.2) scale(1,1.12)" text-anchor="middle" font-family="'Liberation Sans', sans-serif" font-size="5.3" fill="#4D4D4D">20</text>
<line x1="544.05" y1="421.1" x2="544.05" y2="423.3" stroke="#444" stroke-width="0.6"/>
<text transform="translate(544.05,428.2) scale(1,1.12)" text-anchor="middle" font-family="'Liberation Sans', sans-serif" font-size="5.3" fill="#4D4D4D">30</text>
<line x1="584.85" y1="421.1" x2="584.85" y2="423.3" stroke="#444" stroke-width="0.6"/>
<text transform="translate(584.85,428.2) scale(1,1.12)" text-anchor="middle" font-family="'Liberation Sans', sans-serif" font-size="5.3" fill="#4D4D4D">40</text>
<line x1="625.65" y1="421.1" x2="625.65" y2="423.3" stroke="#444" stroke-width="0.6"/>
<text transform="translate(625.65,428.2) scale(1,1.12)" text-anchor="middle" font-family="'Liberation Sans', sans-serif" font-size="5.3" fill="#4D4D4D">50</text>
<text transform="translate(523.5,435.5) scale(1,1.12)" text-anchor="middle" font-family="'Liberation Sans', sans-serif" font-size="6.3" fill="#000">Time (Month)</text>
<text transform="translate(395.2,348.3) rotate(-90) scale(1,1.12)" text-anchor="middle" font-family="'Liberation Sans', sans-serif" font-size="6.3" fill="#000">Survival probability</text>
<text transform="translate(426,391) scale(1,1.12)" font-family="'Liberation Sans', sans-serif" font-size="6.4" fill="#000">p = 0.014</text>
<text transform="translate(523.5,248) scale(1,1.12)" text-anchor="middle" font-family="'Liberation Sans', sans-serif" font-size="7.75" fill="#000">Ex-val Cohort RFS (PORCELAIN)</text>
<text transform="translate(490.2,263) scale(1,1.12)" font-family="'Liberation Sans', sans-serif" font-size="6.3" fill="#000">NTR</text>
<line x1="507.6" y1="260.6" x2="516.1" y2="260.6" stroke="#F8766D" stroke-width="1.3"/>
<path d="M511.85,258.6 V262.6" stroke="#F8766D" stroke-width="0.8"/>
<text transform="translate(519.6,262.5) scale(1,1.12)" font-family="'Liberation Sans', sans-serif" font-size="5" fill="#000">High</text>
<line x1="534.7" y1="260.6" x2="543.2" y2="260.6" stroke="#4ECDC4" stroke-width="1.3"/>
<path d="M538.95,258.6 V262.6" stroke="#4ECDC4" stroke-width="0.8"/>
<text transform="translate(546.7,262.5) scale(1,1.12)" font-family="'Liberation Sans', sans-serif" font-size="5" fill="#000">Low</text>
<text transform="translate(411.9,449.2) scale(1,1.12)" font-family="'Liberation Sans', sans-serif" font-size="7.55" fill="#000">Number at risk</text>
<line x1="442.05" y1="453.5" x2="442.05" y2="485.2" stroke="#F2F2F2" stroke-width="0.4"/>
<line x1="482.85" y1="453.5" x2="482.85" y2="485.2" stroke="#F2F2F2" stroke-width="0.4"/>
<line x1="523.65" y1="453.5" x2="523.65" y2="485.2" stroke="#F2F2F2" stroke-width="0.4"/>
<line x1="564.45" y1="453.5" x2="564.45" y2="485.2" stroke="#F2F2F2" stroke-width="0.4"/>
<line x1="605.25" y1="453.5" x2="605.25" y2="485.2" stroke="#F2F2F2" stroke-width="0.4"/>
<line x1="421.65" y1="453.5" x2="421.65" y2="485.2" stroke="#EBEBEB" stroke-width="0.6"/>
<line x1="462.45" y1="453.5" x2="462.45" y2="485.2" stroke="#EBEBEB" stroke-width="0.6"/>
<line x1="503.25" y1="453.5" x2="503.25" y2="485.2" stroke="#EBEBEB" stroke-width="0.6"/>
<line x1="544.05" y1="453.5" x2="544.05" y2="485.2" stroke="#EBEBEB" stroke-width="0.6"/>
<line x1="584.85" y1="453.5" x2="584.85" y2="485.2" stroke="#EBEBEB" stroke-width="0.6"/>
<line x1="625.65" y1="453.5" x2="625.65" y2="485.2" stroke="#EBEBEB" stroke-width="0.6"/>
<line x1="411.5" y1="461.8" x2="635.7" y2="461.8" stroke="#EBEBEB" stroke-width="0.6"/>
<line x1="411.5" y1="476.6" x2="635.7" y2="476.6" stroke="#EBEBEB" stroke-width="0.6"/>
<line x1="411.5" y1="469.2" x2="635.7" y2="469.2" stroke="#F2F2F2" stroke-width="0.4"/>
<rect x="411.5" y="453.5" width="224.2" height="31.7" fill="none" stroke="#5A5A5A" stroke-width="0.85"/>
<text transform="translate(408.9,463.6) scale(1,1.12)" text-anchor="end" font-family="'Liberation Sans', sans-serif" font-size="5" fill="#F8766D">High</text>
<text transform="translate(421.65,464.5) scale(1,1.12)" text-anchor="middle" font-family="'Liberation Sans', sans-serif" font-size="7.5" fill="#000">28</text>
<text transform="translate(462.45,464.5) scale(1,1.12)" text-anchor="middle" font-family="'Liberation Sans', sans-serif" font-size="7.5" fill="#000">10</text>
<text transform="translate(503.25,464.5) scale(1,1.12)" text-anchor="middle" font-family="'Liberation Sans', sans-serif" font-size="7.5" fill="#000">2</text>
<text transform="translate(544.05,464.5) scale(1,1.12)" text-anchor="middle" font-family="'Liberation Sans', sans-serif" font-size="7.5" fill="#000">1</text>
<text transform="translate(584.85,464.5) scale(1,1.12)" text-anchor="middle" font-family="'Liberation Sans', sans-serif" font-size="7.5" fill="#000">1</text>
<text transform="translate(625.65,464.5) scale(1,1.12)" text-anchor="middle" font-family="'Liberation Sans', sans-serif" font-size="7.5" fill="#000">1</text>
<text transform="translate(408.9,478.4) scale(1,1.12)" text-anchor="end" font-family="'Liberation Sans', sans-serif" font-size="5" fill="#4ECDC4">Low</text>
<text transform="translate(421.65,479.3) scale(1,1.12)" text-anchor="middle" font-family="'Liberation Sans', sans-serif" font-size="7.5" fill="#000">14</text>
<text transform="translate(462.45,479.3) scale(1,1.12)" text-anchor="middle" font-family="'Liberation Sans', sans-serif" font-size="7.5" fill="#000">12</text>
<text transform="translate(503.25,479.3) scale(1,1.12)" text-anchor="middle" font-family="'Liberation Sans', sans-serif" font-size="7.5" fill="#000">7</text>
<text transform="translate(544.05,479.3) scale(1,1.12)" text-anchor="middle" font-family="'Liberation Sans', sans-serif" font-size="7.5" fill="#000">1</text>
<text transform="translate(584.85,479.3) scale(1,1.12)" text-anchor="middle" font-family="'Liberation Sans', sans-serif" font-size="7.5" fill="#000">0</text>
<text transform="translate(625.65,479.3) scale(1,1.12)" text-anchor="middle" font-family="'Liberation Sans', sans-serif" font-size="7.5" fill="#000">0</text>
<line x1="56" y1="512.3" x2="609.3" y2="512.3" stroke="#000" stroke-width="1.1"/>
<line x1="166.8" y1="529.6" x2="388.8" y2="529.6" stroke="#000" stroke-width="0.9"/>
<line x1="56" y1="548.1" x2="609.3" y2="548.1" stroke="#000" stroke-width="0.9"/>
<line x1="56" y1="602.1" x2="609.3" y2="602.1" stroke="#000" stroke-width="1.1"/>
<text transform="translate(112.3,535) scale(1,0.91)" text-anchor="middle" font-family="'Liberation Serif', serif" font-size="13.6" font-weight="bold" fill="#000">Chemotherapy</text>
<text transform="translate(276.7,526.5) scale(1,0.91)" text-anchor="middle" font-family="'Liberation Serif', serif" font-size="13.3" font-weight="bold" fill="#000">NTR Status (PORCELAIN)</text>
<text transform="translate(222.6,544.8) scale(1,0.91)" text-anchor="middle" font-family="'Liberation Serif', serif" font-size="13.6" font-weight="bold" fill="#000">High (%)</text>
<text transform="translate(332.7,544.8) scale(1,0.91)" text-anchor="middle" font-family="'Liberation Serif', serif" font-size="13.6" font-weight="bold" fill="#000">Low (%)</text>
<text transform="translate(443.5,535) scale(1,0.91)" text-anchor="middle" font-family="'Liberation Serif', serif" font-size="13.6" font-weight="bold" fill="#000">Total (%)</text>
<text transform="translate(553.6,535) scale(1,0.91)" text-anchor="middle" font-family="'Liberation Serif', serif" font-size="13.6" font-weight="bold" fill="#000">P Value</text>
<text transform="translate(112.3,562.3) scale(1,0.91)" text-anchor="middle" font-family="'Liberation Serif', serif" font-size="13.6" font-weight="bold" fill="#000">Response</text>
<text transform="translate(222.6,562.3) scale(1,0.91)" text-anchor="middle" font-family="'Liberation Serif', serif" font-size="13.6"  fill="#000">9 (36.0)</text>
<text transform="translate(332.7,562.3) scale(1,0.91)" text-anchor="middle" font-family="'Liberation Serif', serif" font-size="13.6"  fill="#000">11 (84.6)</text>
<text transform="translate(443.5,562.3) scale(1,0.91)" text-anchor="middle" font-family="'Liberation Serif', serif" font-size="13.6"  fill="#000">20 (52.6)</text>
<text transform="translate(112.3,580.6) scale(1,0.91)" text-anchor="middle" font-family="'Liberation Serif', serif" font-size="13.6" font-weight="bold" fill="#000">Non-response</text>
<text transform="translate(222.6,580.6) scale(1,0.91)" text-anchor="middle" font-family="'Liberation Serif', serif" font-size="13.6"  fill="#000">16 (64.0)</text>
<text transform="translate(332.7,580.6) scale(1,0.91)" text-anchor="middle" font-family="'Liberation Serif', serif" font-size="13.6"  fill="#000">2 (15.4)</text>
<text transform="translate(443.5,580.6) scale(1,0.91)" text-anchor="middle" font-family="'Liberation Serif', serif" font-size="13.6"  fill="#000">18 (47.4)</text>
<text transform="translate(112.3,599) scale(1,0.91)" text-anchor="middle" font-family="'Liberation Serif', serif" font-size="13.6" font-weight="bold" fill="#000">Total</text>
<text transform="translate(222.6,599) scale(1,0.91)" text-anchor="middle" font-family="'Liberation Serif', serif" font-size="13.6"  fill="#000">25 (100.0)</text>
<text transform="translate(332.7,599) scale(1,0.91)" text-anchor="middle" font-family="'Liberation Serif', serif" font-size="13.6"  fill="#000">13 (100.0)</text>
<text transform="translate(443.5,599) scale(1,0.91)" text-anchor="middle" font-family="'Liberation Serif', serif" font-size="13.6"  fill="#000">38 (100.0)</text>
<text transform="translate(553.6,580.6) scale(1,0.91)" text-anchor="middle" font-family="'Liberation Serif', serif" font-size="13.6"  fill="#000">0.006</text>
</svg>
</body></html>
